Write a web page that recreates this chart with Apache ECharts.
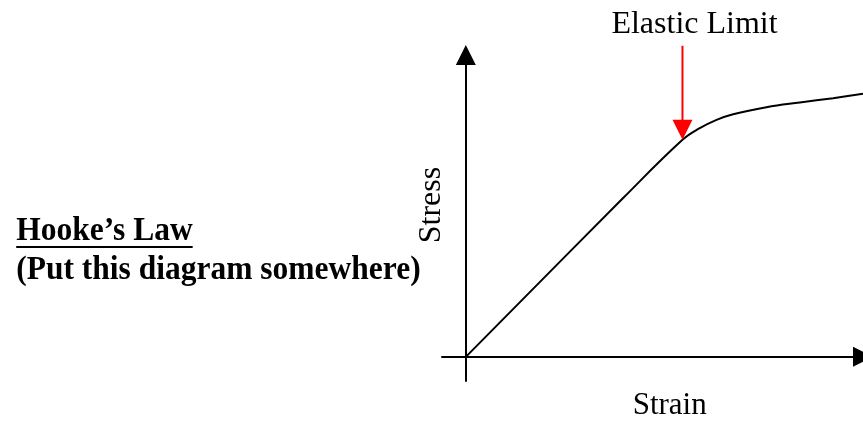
<!DOCTYPE html>
<html><head><meta charset="utf-8">
<script src="https://cdn.jsdelivr.net/npm/echarts@6/dist/echarts.min.js"></script>
<style>html,body{margin:0;padding:0;background:#fff}#c{width:863px;height:421px}</style>
</head><body><div id="c"></div>
<script>
// ---- data ----
const strain = [0, 15.84, 21.82, 23.56, 25.25, 26.92, 30.28, 33.64, 36.99, 40.0];
const stress = [0, 15.78, 21.57, 22.73, 23.56, 24.12, 24.81, 25.28, 25.71, 26.14];
const elasticLimit = [21.82, 21.57];
const xRange = [-2.4, 40];
const yRange = [-2.4, 30];
const xName = 'Strain';
const yName = 'Stress';
const annotation = 'Elastic Limit';
const title1 = 'Hooke\u2019s Law';
const title2 = '(Put this diagram somewhere)';

const SERIF = '"Liberation Serif", "Times New Roman", serif';
const fsT = 31.5;
const sy = 1.1;
const boldFont = 'bold ' + fsT + 'px ' + SERIF;
const cv = document.createElement('canvas').getContext('2d');
cv.font = boldFont;
const t1w = cv.measureText(title1).width;
const t2w = cv.measureText(title2).width;
const tRight = 420.7;
const tLeft = tRight - t2w;
const base1 = 243, base2 = 282;

const chart = echarts.init(document.getElementById('c'), null, {renderer: 'canvas'});
const axisLine = {
  onZero: true,
  symbol: ['none', 'triangle'],
  symbolSize: [20, 20],
  lineStyle: {color: '#000', width: 2}
};
chart.setOption({
  animation: false,
  backgroundColor: '#fff',
  grid: {left: 442, right: 0, top: 55, bottom: 40, containLabel: false},
  xAxis: {
    type: 'value', min: xRange[0], max: xRange[1],
    axisLine: axisLine, axisTick: {show: false}, axisLabel: {show: false}, splitLine: {show: false}
  },
  yAxis: {
    type: 'value', min: yRange[0], max: yRange[1],
    axisLine: axisLine, axisTick: {show: false}, axisLabel: {show: false}, splitLine: {show: false}
  },
  series: [{
    type: 'line',
    name: yName,
    data: strain.map((x, i) => [x, stress[i]]),
    smooth: 0.4,
    symbol: 'none',
    clip: false,
    lineStyle: {color: '#000', width: 2},
    markPoint: {
      silent: true,
      symbol: 'path://M9,0L11,0L11,74L20,74L10,94L0,74L9,74Z',
      symbolSize: [20, 94],
      symbolOffset: [0, -47],
      itemStyle: {color: '#ff0000'},
      label: {show: false},
      data: [{coord: elasticLimit}]
    }
  }],
  graphic: [
    {type: 'text', x: 694.5, y: 35 - 0.3375 * 32, style: {text: annotation, font: '32px ' + SERIF, fill: '#000', textAlign: 'center', textVerticalAlign: 'middle'}},
    {type: 'text', x: 669.7, y: 416.5 - 0.3375 * 31, style: {text: xName, font: '31px ' + SERIF, fill: '#000', textAlign: 'center', textVerticalAlign: 'middle'}},
    {type: 'text', x: 442.7 - 0.3375 * 32, y: 205, rotation: Math.PI / 2, style: {text: yName, font: '32px ' + SERIF, fill: '#000', textAlign: 'center', textVerticalAlign: 'middle'}},
    {type: 'text', x: tLeft, y: base1 - 0.3375 * fsT * sy, scaleY: sy, style: {text: title1, font: boldFont, fill: '#000', textAlign: 'left', textVerticalAlign: 'middle'}},
    {type: 'line', shape: {x1: tLeft, y1: base1 + 4, x2: tLeft + t1w, y2: base1 + 4}, style: {stroke: '#000', lineWidth: 2}},
    {type: 'text', x: tLeft, y: base2 - 0.3375 * fsT * sy, scaleY: sy, style: {text: title2, font: boldFont, fill: '#000', textAlign: 'left', textVerticalAlign: 'middle'}}
  ]
});
</script>
</body></html>
